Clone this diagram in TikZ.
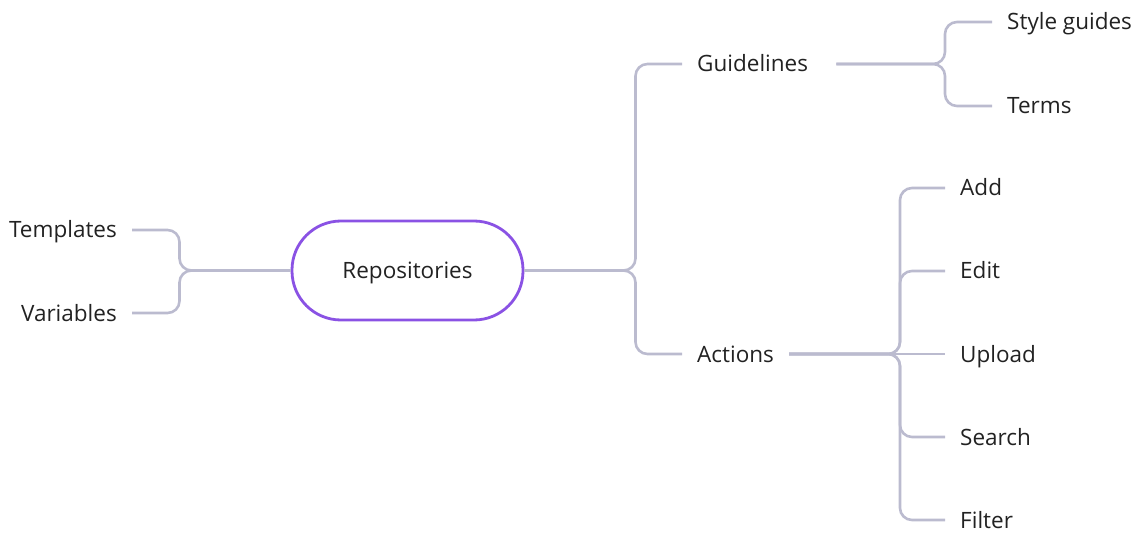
\documentclass[tikz,border=0pt]{standalone}
\usepackage{fontspec}
\setmainfont{Open Sans}
\definecolor{linkc}{HTML}{BBBBCF}
\definecolor{ovalc}{HTML}{8A52E4}
\definecolor{txtc}{HTML}{222222}
\begin{document}
\begin{tikzpicture}[x=1pt,y=-1pt,
  lbl/.style={font=\fontsize{22.5}{26}\selectfont, text=txtc, inner xsep=15pt, inner ysep=0pt, text height=17pt, text depth=1pt},
  link/.style={draw=linkc, line width=2.6pt, rounded corners=12pt},
  rootbox/.style={draw=ovalc, line width=2.8pt, rounded corners=49pt, minimum width=231pt, minimum height=99pt, font=\fontsize{22.5}{26}\selectfont, text=txtc, text height=17pt, text depth=1pt}]
\useasboundingbox (0,0) rectangle (1142,534);
% root
\node[rootbox] (root) at (407.5,270.5) {Repositories};
% left
\node[lbl, anchor=east] (tpl) at (132,230) {Templates};
\node[lbl, anchor=east] (var) at (132,313) {Variables};
% right level 1
\node[lbl, anchor=west] (gui) at (682,64) {Guidelines};
\node[lbl, anchor=west] (act) at (682,354) {Actions};
% guidelines children
\node[lbl, anchor=west] (sty) at (992,22) {Style guides};
\node[lbl, anchor=west] (ter) at (992,106) {Terms};
% actions children
\node[lbl, anchor=west] (add) at (945,188) {Add};
\node[lbl, anchor=west] (edi) at (945,271) {Edit};
\node[lbl, anchor=west] (upl) at (945,354) {Upload};
\node[lbl, anchor=west] (sea) at (945,437) {Search};
\node[lbl, anchor=west] (fil) at (945,520) {Filter};
% bracket coordinates
\coordinate (bl) at (179.5,270.5);
\coordinate (bm) at (635.5,270.5);
\coordinate (bg) at (945,64);
\coordinate (ba) at (900,354);
\coordinate (gstart) at ([xshift=13pt]gui.east);
% connectors left
\draw[link] (root.west) -- (bl) -- (bl |- tpl.east) -- (tpl.east);
\draw[link] (root.west) -- (bl) -- (bl |- var.east) -- (var.east);
% connectors right
\draw[link] (root.east) -- (bm) -- (bm |- gui.west) -- (gui.west);
\draw[link] (root.east) -- (bm) -- (bm |- act.west) -- (act.west);
\draw[link] (gstart) -- (bg) -- (bg |- sty.west) -- (sty.west);
\draw[link] (gstart) -- (bg) -- (bg |- ter.west) -- (ter.west);
\draw[link] (act.east) -- (ba) -- (ba |- add.west) -- (add.west);
\draw[link] (act.east) -- (ba) -- (ba |- edi.west) -- (edi.west);
\draw[link] (act.east) -- (ba) -- (upl.west);
\draw[link] (act.east) -- (ba) -- (ba |- sea.west) -- (sea.west);
\draw[link] (act.east) -- (ba) -- (ba |- fil.west) -- (fil.west);
\end{tikzpicture}
\end{document}
